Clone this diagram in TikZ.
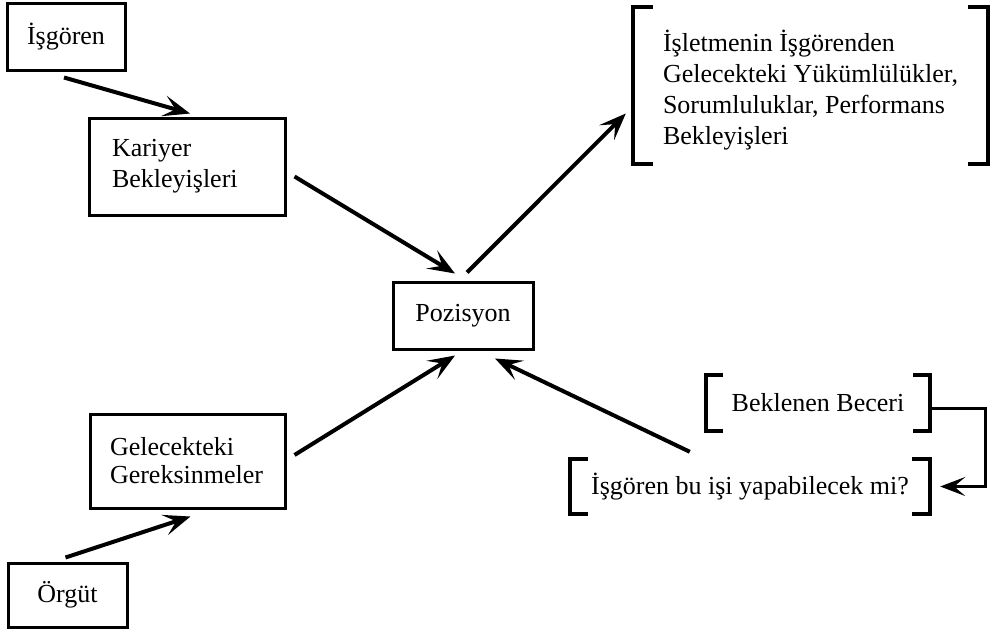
\documentclass[tikz,border=0pt]{standalone}
\usepackage{fontspec}
\setmainfont{Liberation Serif}
\usetikzlibrary{arrows.meta,calc}
\begin{document}
\begin{tikzpicture}[x=1pt,y=-1pt,
  txt/.style={font={\fontsize{26}{31}\selectfont}, align=left, inner ysep=0pt},
  box/.style={txt, draw, line width=3pt},
  brkarea/.style={inner sep=0pt},
  brk/.style={line width=3.5pt},
  arr/.style={line width=4pt, -{Stealth[length=27pt,width=21pt,inset=12pt]}},
]
\useasboundingbox (0,0) rectangle (992,637);
% boxes
\node[box, minimum width=118pt, minimum height=67pt] (isg) at (66,36.5) {İşgören};
\node[box, minimum width=196pt, minimum height=97pt, inner xsep=23pt, text width=150pt] (kar) at (187,166.5) {Kariyer\\Bekleyişleri};
\node[box, minimum width=140pt, minimum height=67pt] (poz) at (463,315.5) {Pozisyon};
\node[box, font={\fontsize{26}{28}\selectfont}, minimum width=195pt, minimum height=94pt, inner xsep=20pt, text width=155pt] (gel) at (187.5,461) {Gelecekteki\\Gereksinmeler};
\node[box, minimum width=119pt, minimum height=64pt] (org) at (67.5,595) {Örgüt};
% bracketed items
\node[brkarea, minimum width=355pt, minimum height=157pt] (res) at (810.5,85.5) {};
\node[txt, anchor=west, inner xsep=0pt] (restext) at ($(res.west)+(30,5)$) {İşletmenin İşgörenden\\Gelecekteki Yükümlülükler,\\Sorumluluklar, Performans\\Bekleyişleri};
\node[txt, minimum width=224pt, minimum height=56pt] (bek) at (818,403) {Beklenen Beceri};
\node[txt, minimum width=360pt, minimum height=55pt] (isb) at (750,486.5) {İşgören bu işi yapabilecek mi?};
% brackets
\draw[brk] ($(res.north west)+(20,0)$) -| (res.south west) -- ++(20,0);
\draw[brk] ($(res.north east)+(-20,0)$) -| (res.south east) -- ++(-20,0);
\draw[brk] ($(bek.north west)+(17,0)$) -| (bek.south west) -- ++(17,0);
\draw[brk] ($(bek.north east)+(-17,0)$) -| (bek.south east) -- ++(-17,0);
\draw[brk] ($(isb.north west)+(18,0)$) -| (isb.south west) -- ++(18,0);
\draw[brk] ($(isb.north east)+(-18,0)$) -| (isb.south east) -- ++(-18,0);
% connectors
\draw[arr] ($(isg.south)+(-2,6)$) -- ($(kar.north)+(3,-3)$);
\draw[arr] ($(kar.east)+(8,10)$) -- ($(poz.north)+(-8,-7)$);
\draw[arr] ($(poz.north)+(4,-8)$) -- ($(res.west)+(-7,28)$);
\draw[arr] ($(gel.east)+(8,-6)$) -- ($(poz.south)+(-8,5)$);
\draw[arr] ($(org.north)+(-2,-4)$) -- ($(gel.south)+(3,7)$);
\draw[arr] ($(isb.north west)+(120,-7)$) -- ($(poz.south)+(32,8)$);
\draw[line width=3pt, -{Stealth[length=25pt,width=19pt,inset=11pt]}] ($(bek.east)+(0,5)$) -- ++(55,0) |- ($(isb.east)+(10,0)$);
\end{tikzpicture}
\end{document}
